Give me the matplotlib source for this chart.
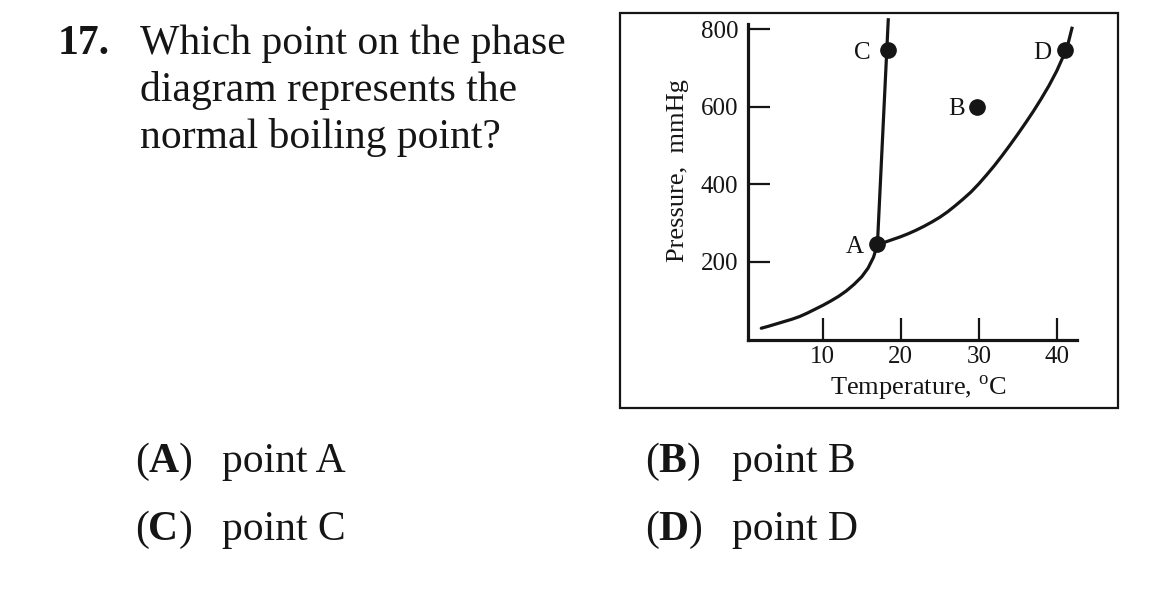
import matplotlib
matplotlib.use('Agg')
import matplotlib.pyplot as plt
from matplotlib.patches import Rectangle

plt.rcParams['font.family'] = ['Liberation Serif', 'DejaVu Serif']
plt.rcParams['mathtext.fontset'] = 'custom'
plt.rcParams['mathtext.rm'] = 'Liberation Serif'

# ---- data ----
sub_T = [2.1, 3.0, 4.0, 5.0, 6.0, 7.0, 8.0, 9.0, 10.0, 11.0, 12.0, 13.0, 14.0, 15.0, 15.8, 16.5, 17.0]
sub_P = [29, 34, 40, 46, 52, 59, 68, 78, 88, 99, 111, 125, 142, 162, 184, 212, 245]

vap_T = [17.0, 18.0, 19.0, 20.0, 21.0, 22.0, 23.0, 24.0, 25.0, 26.0, 27.0, 28.0, 29.0, 30.0,
         31.0, 32.0, 33.0, 34.0, 35.0, 36.0, 37.0, 38.0, 39.0, 40.0, 41.0, 41.5, 42.0]
vap_P = [245, 251, 258, 265, 273, 282, 292, 303, 315, 329, 345, 362, 380, 401,
         424, 448, 474, 501, 529, 558, 588, 620, 654, 692, 737, 766, 806]

fus_T = [17.0, 18.4]
fus_P = [245, 828]

pt_labels = ['A', 'B', 'C', 'D']
pt_T = [17.0, 29.8, 18.3, 41.1]
pt_P = [245, 600, 746, 746]

x_ticks = [10, 20, 30, 40]
y_ticks = [200, 400, 600, 800]

question_num = '17.'
question_lines = ['Which point on the phase', 'diagram represents the', 'normal boiling point?']
choice_letters = ['A', 'B', 'C', 'D']
choice_texts = ['point A', 'point B', 'point C', 'point D']

# ---- layout ----
W, H = 1155, 589
fig = plt.figure(figsize=(W / 100, H / 100), dpi=100)
fig.patch.set_facecolor('white')

def fx(x):
    return x / W

def fy(y):
    return 1 - y / H

ink = '#151515'

ax = fig.add_axes([fx(748), fy(339.5), fx(1077) - fx(748), fy(24) - fy(339.5)])
ax.set_facecolor('none')

ax.plot(sub_T, sub_P, color=ink, lw=2.3, clip_on=False, solid_capstyle='round',
        solid_joinstyle='round')
ax.plot(vap_T, vap_P, color=ink, lw=2.3, clip_on=False, solid_capstyle='butt',
        solid_joinstyle='round')
ax.plot(fus_T, fus_P, color=ink, lw=2.3, clip_on=False, solid_capstyle='butt')
ax.plot(pt_T, pt_P, 'o', ms=11, color=ink, clip_on=False, zorder=5)

label_offsets = [(-16, -1.5), (-14.5, -2), (-18, -2), (-16.5, -2)]
for lbl, t, p, off in zip(pt_labels, pt_T, pt_P, label_offsets):
    ax.annotate(lbl, (t, p), xytext=off, textcoords='offset points',
                ha='center', va='center', fontsize=18, color=ink)

ax.set_xlim(0.4, 42.6)
ax.set_ylim(0, 813)
for s in ['top', 'right']:
    ax.spines[s].set_visible(False)
for s in ['left', 'bottom']:
    ax.spines[s].set_linewidth(2.3)
    ax.spines[s].set_color(ink)
ax.set_xticks(x_ticks)
ax.set_yticks(y_ticks)
ax.tick_params(direction='in', length=16, width=1.6, labelsize=18, colors=ink)
ax.tick_params(axis='y', pad=7)
ax.tick_params(axis='x', pad=5)

fig.text(fx(678), fy(171), 'Pressure,  mmHg', rotation=90, ha='center', va='center',
         fontsize=19, color=ink)
fig.text(fx(918), fy(388), r'Temperature, $^{\mathrm{o}}$C', ha='center', va='center',
         fontsize=19, color=ink)

fig.patches.append(Rectangle((fx(620), fy(408)), fx(1118) - fx(620), fy(13) - fy(408),
                             transform=fig.transFigure, fill=False, lw=1.6, ec=ink))

# ---- question text ----
fig.text(fx(58), fy(54), question_num, fontsize=30, fontweight='bold', color=ink,
         ha='left', va='baseline')
for i, line in enumerate(question_lines):
    fig.text(fx(140), fy(54 + 47 * i), line, fontsize=30, color=ink, ha='left', va='baseline')

choice_x = [135, 645, 135, 645]
choice_y = [472, 472, 540, 540]
letter_w = {'A': 30, 'B': 28, 'C': 30, 'D': 30}
for letter, txt, x, y in zip(choice_letters, choice_texts, choice_x, choice_y):
    fig.text(fx(x), fy(y), '(', fontsize=30, color=ink, ha='left', va='baseline')
    fig.text(fx(x + 13.5), fy(y), letter, fontsize=30, fontweight='bold', color=ink,
             ha='left', va='baseline')
    fig.text(fx(x + 13.5 + letter_w[letter]), fy(y), ')', fontsize=30, color=ink,
             ha='left', va='baseline')
    fig.text(fx(x + 87), fy(y), txt, fontsize=30, color=ink, ha='left', va='baseline')

fig.savefig('out.png', dpi=100, facecolor='white')
